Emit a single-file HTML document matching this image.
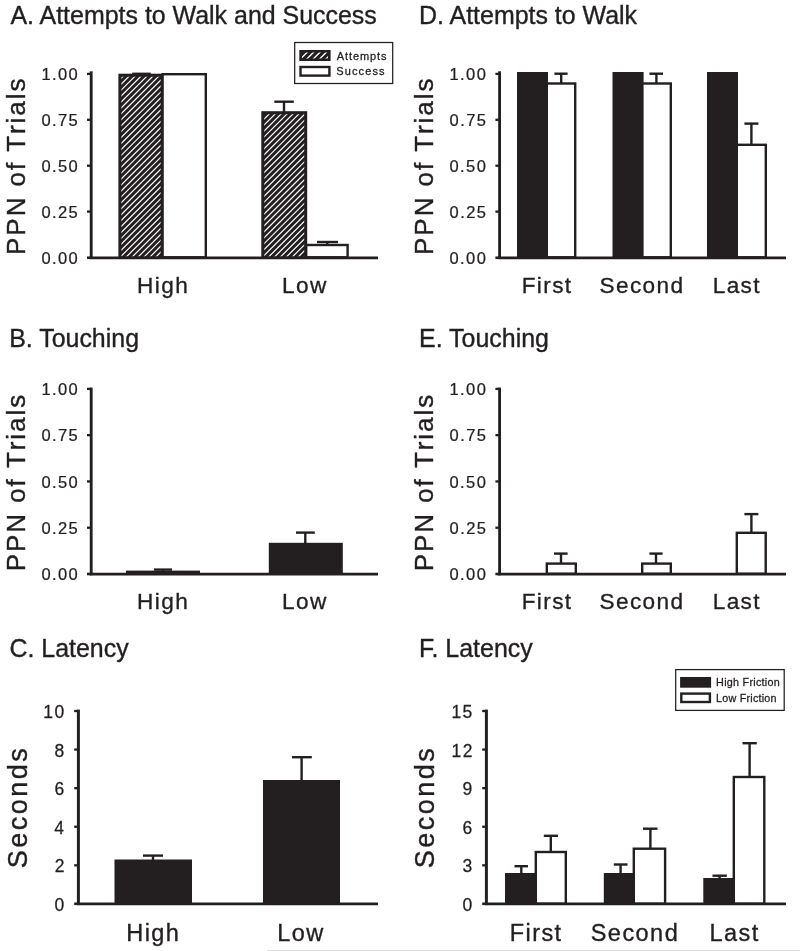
<!DOCTYPE html>
<html><head><meta charset="utf-8"><title>Figure</title>
<style>
html,body{margin:0;padding:0;background:#fff;}
body{width:800px;height:951px;overflow:hidden;}
svg{display:block;}
#wrap{width:800px;height:951px;overflow:hidden;}
svg{will-change:transform;opacity:0.999;}
svg text{font-family:"Liberation Sans",sans-serif;font-kerning:none;white-space:pre;stroke:#231f20;stroke-width:0.015em;stroke-linejoin:round;}
</style></head><body>
<div id="wrap"><svg width="800" height="951" viewBox="0 0 800 951">
<rect x="0" y="0" width="800" height="951" fill="#fff"/>
<rect x="118.40" y="73.70" width="45.20" height="184.80" fill="#231f20"/>
<clipPath id="c1"><rect x="121.40" y="76.70" width="39.20" height="179.80"/></clipPath>
<path clip-path="url(#c1)" d="M119.40 68.13L162.60 24.93M119.40 74.06L162.60 30.86M119.40 79.99L162.60 36.79M119.40 85.92L162.60 42.72M119.40 91.85L162.60 48.65M119.40 97.78L162.60 54.58M119.40 103.71L162.60 60.51M119.40 109.64L162.60 66.44M119.40 115.57L162.60 72.37M119.40 121.50L162.60 78.30M119.40 127.43L162.60 84.23M119.40 133.36L162.60 90.16M119.40 139.29L162.60 96.09M119.40 145.22L162.60 102.02M119.40 151.15L162.60 107.95M119.40 157.08L162.60 113.88M119.40 163.01L162.60 119.81M119.40 168.94L162.60 125.74M119.40 174.87L162.60 131.67M119.40 180.80L162.60 137.60M119.40 186.73L162.60 143.53M119.40 192.66L162.60 149.46M119.40 198.59L162.60 155.39M119.40 204.52L162.60 161.32M119.40 210.45L162.60 167.25M119.40 216.38L162.60 173.18M119.40 222.31L162.60 179.11M119.40 228.24L162.60 185.04M119.40 234.17L162.60 190.97M119.40 240.10L162.60 196.90M119.40 246.03L162.60 202.83M119.40 251.96L162.60 208.76M119.40 257.89L162.60 214.69M119.40 263.82L162.60 220.62M119.40 269.75L162.60 226.55M119.40 275.68L162.60 232.48M119.40 281.61L162.60 238.41M119.40 287.54L162.60 244.34M119.40 293.47L162.60 250.27M119.40 299.40L162.60 256.20" stroke="#fff" stroke-width="1.2" fill="none"/>
<rect x="162.60" y="74.20" width="43.20" height="183.10" fill="#fff" stroke="#231f20" stroke-width="2.4"/>
<line x1="132.20" y1="73.40" x2="150.80" y2="73.40" stroke="#231f20" stroke-width="1.6" stroke-linecap="butt"/>
<rect x="261.30" y="111.20" width="45.90" height="147.30" fill="#231f20"/>
<clipPath id="c2"><rect x="264.30" y="114.20" width="39.90" height="142.30"/></clipPath>
<path clip-path="url(#c2)" d="M262.30 109.06L306.20 65.16M262.30 114.99L306.20 71.09M262.30 120.92L306.20 77.02M262.30 126.85L306.20 82.95M262.30 132.78L306.20 88.88M262.30 138.71L306.20 94.81M262.30 144.64L306.20 100.74M262.30 150.57L306.20 106.67M262.30 156.50L306.20 112.60M262.30 162.43L306.20 118.53M262.30 168.36L306.20 124.46M262.30 174.29L306.20 130.39M262.30 180.22L306.20 136.32M262.30 186.15L306.20 142.25M262.30 192.08L306.20 148.18M262.30 198.01L306.20 154.11M262.30 203.94L306.20 160.04M262.30 209.87L306.20 165.97M262.30 215.80L306.20 171.90M262.30 221.73L306.20 177.83M262.30 227.66L306.20 183.76M262.30 233.59L306.20 189.69M262.30 239.52L306.20 195.62M262.30 245.45L306.20 201.55M262.30 251.38L306.20 207.48M262.30 257.31L306.20 213.41M262.30 263.24L306.20 219.34M262.30 269.17L306.20 225.27M262.30 275.10L306.20 231.20M262.30 281.03L306.20 237.13M262.30 286.96L306.20 243.06M262.30 292.89L306.20 248.99M262.30 298.82L306.20 254.92" stroke="#fff" stroke-width="1.2" fill="none"/>
<line x1="274.30" y1="101.70" x2="293.80" y2="101.70" stroke="#231f20" stroke-width="2.4" stroke-linecap="butt"/>
<line x1="284.00" y1="101.70" x2="284.00" y2="112.40" stroke="#231f20" stroke-width="2.4" stroke-linecap="butt"/>
<rect x="306.20" y="245.00" width="41.40" height="12.30" fill="#fff" stroke="#231f20" stroke-width="2.4"/>
<line x1="317.00" y1="242.00" x2="338.00" y2="242.00" stroke="#231f20" stroke-width="2.4" stroke-linecap="butt"/>
<line x1="327.30" y1="242.00" x2="327.30" y2="245.00" stroke="#231f20" stroke-width="2.4" stroke-linecap="butt"/>
<rect x="517.00" y="72.00" width="31.00" height="186.50" fill="#231f20"/>
<rect x="546.80" y="83.50" width="28.40" height="173.80" fill="#fff" stroke="#231f20" stroke-width="2.4"/>
<line x1="554.40" y1="73.70" x2="567.60" y2="73.70" stroke="#231f20" stroke-width="2.4" stroke-linecap="butt"/>
<line x1="561.20" y1="73.70" x2="561.20" y2="83.50" stroke="#231f20" stroke-width="2.4" stroke-linecap="butt"/>
<rect x="612.50" y="72.00" width="31.10" height="186.50" fill="#231f20"/>
<rect x="642.40" y="83.50" width="28.40" height="173.80" fill="#fff" stroke="#231f20" stroke-width="2.4"/>
<line x1="649.40" y1="73.70" x2="663.00" y2="73.70" stroke="#231f20" stroke-width="2.4" stroke-linecap="butt"/>
<line x1="656.40" y1="73.70" x2="656.40" y2="83.50" stroke="#231f20" stroke-width="2.4" stroke-linecap="butt"/>
<rect x="707.00" y="72.00" width="31.00" height="186.50" fill="#231f20"/>
<rect x="736.80" y="144.80" width="29.00" height="112.50" fill="#fff" stroke="#231f20" stroke-width="2.4"/>
<line x1="744.40" y1="123.60" x2="758.40" y2="123.60" stroke="#231f20" stroke-width="2.4" stroke-linecap="butt"/>
<line x1="751.40" y1="123.60" x2="751.40" y2="144.80" stroke="#231f20" stroke-width="2.4" stroke-linecap="butt"/>
<rect x="126.00" y="570.60" width="74.00" height="4.40" fill="#231f20"/>
<line x1="154.00" y1="569.60" x2="172.00" y2="569.60" stroke="#231f20" stroke-width="2.4" stroke-linecap="butt"/>
<line x1="163.00" y1="569.60" x2="163.00" y2="571.80" stroke="#231f20" stroke-width="2.4" stroke-linecap="butt"/>
<rect x="268.80" y="542.80" width="74.00" height="32.20" fill="#231f20"/>
<line x1="296.00" y1="532.60" x2="314.80" y2="532.60" stroke="#231f20" stroke-width="2.4" stroke-linecap="butt"/>
<line x1="305.30" y1="532.60" x2="305.30" y2="544.00" stroke="#231f20" stroke-width="2.4" stroke-linecap="butt"/>
<rect x="546.80" y="563.60" width="29.00" height="10.20" fill="#fff" stroke="#231f20" stroke-width="2.4"/>
<line x1="554.00" y1="553.60" x2="567.60" y2="553.60" stroke="#231f20" stroke-width="2.4" stroke-linecap="butt"/>
<line x1="561.00" y1="553.60" x2="561.00" y2="563.60" stroke="#231f20" stroke-width="2.4" stroke-linecap="butt"/>
<rect x="642.20" y="563.60" width="28.60" height="10.20" fill="#fff" stroke="#231f20" stroke-width="2.4"/>
<line x1="649.40" y1="553.60" x2="662.60" y2="553.60" stroke="#231f20" stroke-width="2.4" stroke-linecap="butt"/>
<line x1="656.00" y1="553.60" x2="656.00" y2="563.60" stroke="#231f20" stroke-width="2.4" stroke-linecap="butt"/>
<rect x="736.80" y="532.80" width="28.90" height="41.00" fill="#fff" stroke="#231f20" stroke-width="2.4"/>
<line x1="744.40" y1="514.10" x2="758.40" y2="514.10" stroke="#231f20" stroke-width="2.4" stroke-linecap="butt"/>
<line x1="751.40" y1="514.10" x2="751.40" y2="532.80" stroke="#231f20" stroke-width="2.4" stroke-linecap="butt"/>
<rect x="114.50" y="859.50" width="77.50" height="45.50" fill="#231f20"/>
<line x1="143.00" y1="855.60" x2="163.00" y2="855.60" stroke="#231f20" stroke-width="2.4" stroke-linecap="butt"/>
<line x1="153.00" y1="855.60" x2="153.00" y2="860.70" stroke="#231f20" stroke-width="2.4" stroke-linecap="butt"/>
<rect x="263.00" y="780.00" width="77.00" height="125.00" fill="#231f20"/>
<line x1="292.00" y1="757.20" x2="311.80" y2="757.20" stroke="#231f20" stroke-width="2.4" stroke-linecap="butt"/>
<line x1="301.60" y1="757.20" x2="301.60" y2="781.20" stroke="#231f20" stroke-width="2.4" stroke-linecap="butt"/>
<rect x="505.00" y="873.00" width="32.00" height="32.00" fill="#231f20"/>
<line x1="514.50" y1="866.20" x2="528.00" y2="866.20" stroke="#231f20" stroke-width="2.4" stroke-linecap="butt"/>
<line x1="521.30" y1="866.20" x2="521.30" y2="874.20" stroke="#231f20" stroke-width="2.4" stroke-linecap="butt"/>
<rect x="535.80" y="852.00" width="30.00" height="51.80" fill="#fff" stroke="#231f20" stroke-width="2.4"/>
<line x1="543.80" y1="835.80" x2="558.00" y2="835.80" stroke="#231f20" stroke-width="2.4" stroke-linecap="butt"/>
<line x1="550.80" y1="835.80" x2="550.80" y2="852.00" stroke="#231f20" stroke-width="2.4" stroke-linecap="butt"/>
<rect x="603.80" y="873.00" width="31.20" height="32.00" fill="#231f20"/>
<line x1="613.80" y1="864.50" x2="627.50" y2="864.50" stroke="#231f20" stroke-width="2.4" stroke-linecap="butt"/>
<line x1="620.60" y1="864.50" x2="620.60" y2="874.20" stroke="#231f20" stroke-width="2.4" stroke-linecap="butt"/>
<rect x="633.80" y="848.70" width="31.30" height="55.10" fill="#fff" stroke="#231f20" stroke-width="2.4"/>
<line x1="643.00" y1="828.70" x2="657.50" y2="828.70" stroke="#231f20" stroke-width="2.4" stroke-linecap="butt"/>
<line x1="650.40" y1="828.70" x2="650.40" y2="848.70" stroke="#231f20" stroke-width="2.4" stroke-linecap="butt"/>
<rect x="703.30" y="878.00" width="31.70" height="27.00" fill="#231f20"/>
<line x1="712.50" y1="875.70" x2="726.80" y2="875.70" stroke="#231f20" stroke-width="2.4" stroke-linecap="butt"/>
<line x1="719.60" y1="875.70" x2="719.60" y2="879.20" stroke="#231f20" stroke-width="2.4" stroke-linecap="butt"/>
<rect x="733.80" y="777.00" width="30.50" height="126.80" fill="#fff" stroke="#231f20" stroke-width="2.4"/>
<line x1="742.50" y1="743.20" x2="756.80" y2="743.20" stroke="#231f20" stroke-width="2.4" stroke-linecap="butt"/>
<line x1="749.60" y1="743.20" x2="749.60" y2="777.00" stroke="#231f20" stroke-width="2.4" stroke-linecap="butt"/>
<line x1="91.20" y1="71.30" x2="91.20" y2="258.95" stroke="#231f20" stroke-width="2.85" stroke-linecap="butt"/>
<line x1="89.78" y1="257.85" x2="378.00" y2="257.85" stroke="#231f20" stroke-width="2.8" stroke-linecap="butt"/>
<line x1="87.00" y1="73.90" x2="91.20" y2="73.90" stroke="#231f20" stroke-width="2.3" stroke-linecap="butt"/>
<line x1="87.00" y1="119.80" x2="91.20" y2="119.80" stroke="#231f20" stroke-width="2.3" stroke-linecap="butt"/>
<line x1="87.00" y1="165.70" x2="91.20" y2="165.70" stroke="#231f20" stroke-width="2.3" stroke-linecap="butt"/>
<line x1="87.00" y1="211.60" x2="91.20" y2="211.60" stroke="#231f20" stroke-width="2.3" stroke-linecap="butt"/>
<line x1="87.00" y1="257.75" x2="91.20" y2="257.75" stroke="#231f20" stroke-width="2.6" stroke-linecap="butt"/>
<line x1="499.60" y1="71.30" x2="499.60" y2="258.95" stroke="#231f20" stroke-width="2.85" stroke-linecap="butt"/>
<line x1="498.18" y1="257.85" x2="786.00" y2="257.85" stroke="#231f20" stroke-width="2.8" stroke-linecap="butt"/>
<line x1="495.40" y1="73.90" x2="499.60" y2="73.90" stroke="#231f20" stroke-width="2.3" stroke-linecap="butt"/>
<line x1="495.40" y1="119.80" x2="499.60" y2="119.80" stroke="#231f20" stroke-width="2.3" stroke-linecap="butt"/>
<line x1="495.40" y1="165.70" x2="499.60" y2="165.70" stroke="#231f20" stroke-width="2.3" stroke-linecap="butt"/>
<line x1="495.40" y1="211.60" x2="499.60" y2="211.60" stroke="#231f20" stroke-width="2.3" stroke-linecap="butt"/>
<line x1="495.40" y1="257.75" x2="499.60" y2="257.75" stroke="#231f20" stroke-width="2.6" stroke-linecap="butt"/>
<line x1="91.20" y1="387.60" x2="91.20" y2="575.20" stroke="#231f20" stroke-width="2.85" stroke-linecap="butt"/>
<line x1="89.78" y1="574.10" x2="378.00" y2="574.10" stroke="#231f20" stroke-width="2.8" stroke-linecap="butt"/>
<line x1="87.00" y1="388.90" x2="91.20" y2="388.90" stroke="#231f20" stroke-width="2.3" stroke-linecap="butt"/>
<line x1="87.00" y1="435.17" x2="91.20" y2="435.17" stroke="#231f20" stroke-width="2.3" stroke-linecap="butt"/>
<line x1="87.00" y1="481.45" x2="91.20" y2="481.45" stroke="#231f20" stroke-width="2.3" stroke-linecap="butt"/>
<line x1="87.00" y1="527.73" x2="91.20" y2="527.73" stroke="#231f20" stroke-width="2.3" stroke-linecap="butt"/>
<line x1="87.00" y1="574.00" x2="91.20" y2="574.00" stroke="#231f20" stroke-width="2.6" stroke-linecap="butt"/>
<line x1="499.60" y1="387.60" x2="499.60" y2="575.20" stroke="#231f20" stroke-width="2.85" stroke-linecap="butt"/>
<line x1="498.18" y1="574.10" x2="786.00" y2="574.10" stroke="#231f20" stroke-width="2.8" stroke-linecap="butt"/>
<line x1="495.40" y1="388.90" x2="499.60" y2="388.90" stroke="#231f20" stroke-width="2.3" stroke-linecap="butt"/>
<line x1="495.40" y1="435.17" x2="499.60" y2="435.17" stroke="#231f20" stroke-width="2.3" stroke-linecap="butt"/>
<line x1="495.40" y1="481.45" x2="499.60" y2="481.45" stroke="#231f20" stroke-width="2.3" stroke-linecap="butt"/>
<line x1="495.40" y1="527.73" x2="499.60" y2="527.73" stroke="#231f20" stroke-width="2.3" stroke-linecap="butt"/>
<line x1="495.40" y1="574.00" x2="499.60" y2="574.00" stroke="#231f20" stroke-width="2.6" stroke-linecap="butt"/>
<line x1="78.40" y1="709.60" x2="78.40" y2="905.00" stroke="#231f20" stroke-width="3.0" stroke-linecap="butt"/>
<line x1="76.90" y1="903.90" x2="378.00" y2="903.90" stroke="#231f20" stroke-width="2.8" stroke-linecap="butt"/>
<line x1="74.20" y1="711.00" x2="78.40" y2="711.00" stroke="#231f20" stroke-width="2.3" stroke-linecap="butt"/>
<line x1="74.20" y1="749.58" x2="78.40" y2="749.58" stroke="#231f20" stroke-width="2.3" stroke-linecap="butt"/>
<line x1="74.20" y1="788.16" x2="78.40" y2="788.16" stroke="#231f20" stroke-width="2.3" stroke-linecap="butt"/>
<line x1="74.20" y1="826.74" x2="78.40" y2="826.74" stroke="#231f20" stroke-width="2.3" stroke-linecap="butt"/>
<line x1="74.20" y1="865.32" x2="78.40" y2="865.32" stroke="#231f20" stroke-width="2.3" stroke-linecap="butt"/>
<line x1="74.20" y1="903.80" x2="78.40" y2="903.80" stroke="#231f20" stroke-width="2.6" stroke-linecap="butt"/>
<line x1="486.40" y1="709.60" x2="486.40" y2="905.00" stroke="#231f20" stroke-width="3.0" stroke-linecap="butt"/>
<line x1="484.90" y1="903.90" x2="786.00" y2="903.90" stroke="#231f20" stroke-width="2.8" stroke-linecap="butt"/>
<line x1="482.20" y1="711.00" x2="486.40" y2="711.00" stroke="#231f20" stroke-width="2.3" stroke-linecap="butt"/>
<line x1="482.20" y1="749.58" x2="486.40" y2="749.58" stroke="#231f20" stroke-width="2.3" stroke-linecap="butt"/>
<line x1="482.20" y1="788.16" x2="486.40" y2="788.16" stroke="#231f20" stroke-width="2.3" stroke-linecap="butt"/>
<line x1="482.20" y1="826.74" x2="486.40" y2="826.74" stroke="#231f20" stroke-width="2.3" stroke-linecap="butt"/>
<line x1="482.20" y1="865.32" x2="486.40" y2="865.32" stroke="#231f20" stroke-width="2.3" stroke-linecap="butt"/>
<line x1="482.20" y1="903.80" x2="486.40" y2="903.80" stroke="#231f20" stroke-width="2.6" stroke-linecap="butt"/>
<text x="41.43" y="80.21" font-size="16.5" letter-spacing="1.400" fill="#231f20">1.00</text>
<text x="41.48" y="126.11" font-size="16.5" letter-spacing="1.400" fill="#231f20">0.75</text>
<text x="41.43" y="172.01" font-size="16.5" letter-spacing="1.400" fill="#231f20">0.50</text>
<text x="41.48" y="217.91" font-size="16.5" letter-spacing="1.400" fill="#231f20">0.25</text>
<text x="41.43" y="263.81" font-size="16.5" letter-spacing="1.400" fill="#231f20">0.00</text>
<text x="449.53" y="80.21" font-size="16.5" letter-spacing="1.400" fill="#231f20">1.00</text>
<text x="449.58" y="126.11" font-size="16.5" letter-spacing="1.400" fill="#231f20">0.75</text>
<text x="449.53" y="172.01" font-size="16.5" letter-spacing="1.400" fill="#231f20">0.50</text>
<text x="449.58" y="217.91" font-size="16.5" letter-spacing="1.400" fill="#231f20">0.25</text>
<text x="449.53" y="263.81" font-size="16.5" letter-spacing="1.400" fill="#231f20">0.00</text>
<text x="41.43" y="395.21" font-size="16.5" letter-spacing="1.400" fill="#231f20">1.00</text>
<text x="41.48" y="441.48" font-size="16.5" letter-spacing="1.400" fill="#231f20">0.75</text>
<text x="41.43" y="487.76" font-size="16.5" letter-spacing="1.400" fill="#231f20">0.50</text>
<text x="41.48" y="534.03" font-size="16.5" letter-spacing="1.400" fill="#231f20">0.25</text>
<text x="41.43" y="580.31" font-size="16.5" letter-spacing="1.400" fill="#231f20">0.00</text>
<text x="449.53" y="395.21" font-size="16.5" letter-spacing="1.400" fill="#231f20">1.00</text>
<text x="449.58" y="441.48" font-size="16.5" letter-spacing="1.400" fill="#231f20">0.75</text>
<text x="449.53" y="487.76" font-size="16.5" letter-spacing="1.400" fill="#231f20">0.50</text>
<text x="449.58" y="534.03" font-size="16.5" letter-spacing="1.400" fill="#231f20">0.25</text>
<text x="449.53" y="580.31" font-size="16.5" letter-spacing="1.400" fill="#231f20">0.00</text>
<text x="43.37" y="718.06" font-size="17.5" letter-spacing="1.350" fill="#231f20">10</text>
<text x="54.53" y="756.64" font-size="17.5" letter-spacing="1.350" fill="#231f20">8</text>
<text x="54.54" y="795.22" font-size="17.5" letter-spacing="1.350" fill="#231f20">6</text>
<text x="54.28" y="833.80" font-size="17.5" letter-spacing="1.350" fill="#231f20">4</text>
<text x="54.65" y="872.38" font-size="17.5" letter-spacing="1.350" fill="#231f20">2</text>
<text x="54.45" y="910.96" font-size="17.5" letter-spacing="1.350" fill="#231f20">0</text>
<text x="451.42" y="718.06" font-size="17.5" letter-spacing="1.350" fill="#231f20">15</text>
<text x="451.56" y="756.64" font-size="17.5" letter-spacing="1.350" fill="#231f20">12</text>
<text x="462.60" y="795.22" font-size="17.5" letter-spacing="1.350" fill="#231f20">9</text>
<text x="462.54" y="833.80" font-size="17.5" letter-spacing="1.350" fill="#231f20">6</text>
<text x="462.54" y="872.38" font-size="17.5" letter-spacing="1.350" fill="#231f20">3</text>
<text x="462.45" y="910.96" font-size="17.5" letter-spacing="1.350" fill="#231f20">0</text>
<text x="10.45" y="24.10" font-size="24.95" letter-spacing="0.000" fill="#231f20" style="font-kerning:normal">A. Attempts to Walk and Success</text>
<text x="419.05" y="24.10" font-size="24.95" letter-spacing="0.000" fill="#231f20" style="font-kerning:normal">D. Attempts to Walk</text>
<text x="9.15" y="347.30" font-size="24.95" letter-spacing="0.000" fill="#231f20" style="font-kerning:normal">B. Touching</text>
<text x="419.05" y="347.30" font-size="24.95" letter-spacing="0.000" fill="#231f20" style="font-kerning:normal">E. Touching</text>
<text x="9.43" y="657.30" font-size="24.95" letter-spacing="0.000" fill="#231f20" style="font-kerning:normal">C. Latency</text>
<text x="419.05" y="657.30" font-size="24.95" letter-spacing="0.000" fill="#231f20" style="font-kerning:normal">F. Latency</text>
<text x="137.07" y="292.80" font-size="22.6" letter-spacing="1.400" fill="#231f20">High</text>
<text x="281.97" y="292.80" font-size="22.6" letter-spacing="1.400" fill="#231f20">Low</text>
<text x="521.64" y="292.80" font-size="22.6" letter-spacing="1.400" fill="#231f20">First</text>
<text x="599.49" y="292.80" font-size="22.6" letter-spacing="1.400" fill="#231f20">Second</text>
<text x="712.70" y="292.80" font-size="22.6" letter-spacing="1.400" fill="#231f20">Last</text>
<text x="137.07" y="608.80" font-size="22.6" letter-spacing="1.400" fill="#231f20">High</text>
<text x="281.97" y="608.80" font-size="22.6" letter-spacing="1.400" fill="#231f20">Low</text>
<text x="521.64" y="608.80" font-size="22.6" letter-spacing="1.400" fill="#231f20">First</text>
<text x="599.49" y="608.80" font-size="22.6" letter-spacing="1.400" fill="#231f20">Second</text>
<text x="712.70" y="608.80" font-size="22.6" letter-spacing="1.400" fill="#231f20">Last</text>
<text x="126.26" y="940.80" font-size="23.5" letter-spacing="1.450" fill="#231f20">High</text>
<text x="277.30" y="940.80" font-size="23.5" letter-spacing="1.450" fill="#231f20">Low</text>
<text x="509.68" y="940.80" font-size="23.5" letter-spacing="1.450" fill="#231f20">First</text>
<text x="590.75" y="940.80" font-size="23.5" letter-spacing="1.450" fill="#231f20">Second</text>
<text x="709.44" y="940.80" font-size="23.5" letter-spacing="1.450" fill="#231f20">Last</text>
<text transform="translate(25.20,254.93) rotate(-90)" x="0" y="0" font-size="26.0" letter-spacing="1.936" fill="#231f20">PPN of Trials</text>
<text transform="translate(433.00,254.93) rotate(-90)" x="0" y="0" font-size="26.0" letter-spacing="1.936" fill="#231f20">PPN of Trials</text>
<text transform="translate(25.20,571.23) rotate(-90)" x="0" y="0" font-size="26.0" letter-spacing="1.936" fill="#231f20">PPN of Trials</text>
<text transform="translate(433.00,571.23) rotate(-90)" x="0" y="0" font-size="26.0" letter-spacing="1.936" fill="#231f20">PPN of Trials</text>
<text transform="translate(27.00,868.23) rotate(-90)" x="0" y="0" font-size="27.0" letter-spacing="2.471" fill="#231f20">Seconds</text>
<text transform="translate(434.20,868.23) rotate(-90)" x="0" y="0" font-size="27.0" letter-spacing="2.471" fill="#231f20">Seconds</text>
<rect x="294.7" y="42.5" width="98" height="41" fill="#fff" stroke="#231f20" stroke-width="1.25"/>
<rect x="299.30" y="50.00" width="31.30" height="11.00" fill="#231f20"/>
<clipPath id="c3"><rect x="301.90" y="52.60" width="26.10" height="5.80"/></clipPath>
<path clip-path="url(#c3)" d="M299.90 46.70L330.00 16.60M299.90 53.10L330.00 23.00M299.90 59.50L330.00 29.40M299.90 65.90L330.00 35.80M299.90 72.30L330.00 42.20M299.90 78.70L330.00 48.60M299.90 85.10L330.00 55.00M299.90 91.50L330.00 61.40" stroke="#fff" stroke-width="1.4" fill="none"/>
<rect x="300.50" y="67.00" width="28.90" height="8.60" fill="#fff" stroke="#231f20" stroke-width="2.4"/>
<text x="336.78" y="60.00" font-size="11.0" letter-spacing="0.916" fill="#231f20" style="stroke-width:0.28px">Attempts</text>
<text x="336.30" y="75.30" font-size="11.0" letter-spacing="1.121" fill="#231f20" style="stroke-width:0.28px">Success</text>
<rect x="675.7" y="669.6" width="108.5" height="40.8" fill="#fff" stroke="#231f20" stroke-width="1.25"/>
<rect x="680.10" y="677.00" width="31.00" height="10.70" fill="#231f20"/>
<rect x="681.30" y="693.60" width="28.60" height="8.40" fill="#fff" stroke="#231f20" stroke-width="2.4"/>
<text x="716.11" y="686.30" font-size="10.8" letter-spacing="0.247" fill="#231f20" style="stroke-width:0.28px">High Friction</text>
<text x="716.11" y="702.00" font-size="10.8" letter-spacing="0.206" fill="#231f20" style="stroke-width:0.28px">Low Friction</text>
<rect x="267" y="950" width="533" height="1" fill="#dcdcdc"/>
</svg></div>
</body></html>
